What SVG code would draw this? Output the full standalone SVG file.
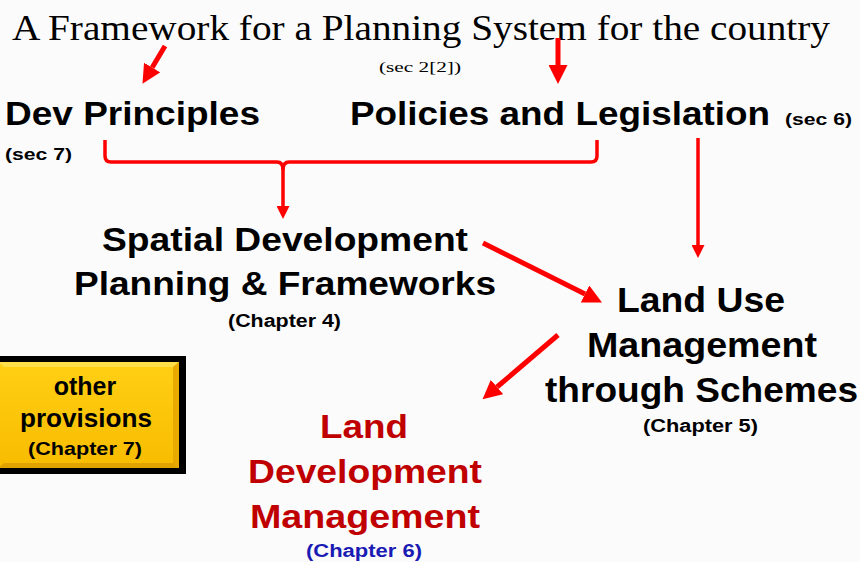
<svg xmlns="http://www.w3.org/2000/svg" width="860" height="562" viewBox="0 0 860 562">
<defs>
<style>
.s{font-family:"Liberation Sans",Arial,sans-serif;font-weight:bold;fill:#000}
.serif{font-family:"Liberation Serif","Times New Roman",serif;fill:#000}
.red{fill:#c00000}
.blue{fill:#1a1ab4}
.ln{fill:none;stroke:#ff0000;stroke-linejoin:round}
</style>
<marker id="big" viewBox="0 0 10 10" refX="0" refY="5" markerWidth="19" markerHeight="19" markerUnits="userSpaceOnUse" orient="auto"><path d="M0,0 L10,5 L0,10 z" fill="#ff0000"/></marker>
<marker id="sm" viewBox="0 0 10 10" refX="0" refY="5" markerWidth="13" markerHeight="13" markerUnits="userSpaceOnUse" orient="auto"><path d="M0,0 L10,5 L0,10 z" fill="#ff0000"/></marker>
<linearGradient id="yg" x1="0" y1="0" x2="0" y2="1">
<stop offset="0" stop-color="#ffcf14"/><stop offset="1" stop-color="#f8bc00"/>
</linearGradient>
</defs>
<rect width="860" height="562" fill="#fbfbfb"/>

<g id="title">
<text class="serif" x="12" y="40" font-size="35" textLength="818" lengthAdjust="spacingAndGlyphs">A Framework for a Planning System for the country</text>
<text class="serif" x="379" y="72" font-size="15" textLength="82" lengthAdjust="spacingAndGlyphs">(sec 2[2])</text>
</g>

<g id="dev-principles">
<text class="s" x="5" y="125" font-size="34" textLength="255" lengthAdjust="spacingAndGlyphs">Dev Principles</text>
<text class="s" x="5" y="160" font-size="17" textLength="67" lengthAdjust="spacingAndGlyphs">(sec 7)</text>
</g>

<g id="policies">
<text class="s" x="350" y="125" font-size="34" textLength="420" lengthAdjust="spacingAndGlyphs">Policies and Legislation</text>
<text class="s" x="785" y="125" font-size="17" textLength="67" lengthAdjust="spacingAndGlyphs">(sec 6)</text>
</g>

<g id="spatial">
<text class="s" x="102" y="251" font-size="34" textLength="366" lengthAdjust="spacingAndGlyphs">Spatial Development</text>
<text class="s" x="74" y="295" font-size="34" textLength="422" lengthAdjust="spacingAndGlyphs">Planning &amp; Frameworks</text>
<text class="s" x="228" y="327" font-size="18" textLength="113" lengthAdjust="spacingAndGlyphs">(Chapter 4)</text>
</g>

<g id="land-use">
<text class="s" x="617" y="312" font-size="35" textLength="168" lengthAdjust="spacingAndGlyphs">Land Use</text>
<text class="s" x="587" y="357" font-size="35" textLength="230" lengthAdjust="spacingAndGlyphs">Management</text>
<text class="s" x="545" y="402" font-size="35" textLength="313" lengthAdjust="spacingAndGlyphs">through Schemes</text>
<text class="s" x="643" y="432" font-size="18" textLength="115" lengthAdjust="spacingAndGlyphs">(Chapter 5)</text>
</g>

<g id="land-dev">
<text class="s red" x="320" y="438" font-size="34" textLength="88" lengthAdjust="spacingAndGlyphs">Land</text>
<text class="s red" x="248" y="483" font-size="34" textLength="234" lengthAdjust="spacingAndGlyphs">Development</text>
<text class="s red" x="250" y="528" font-size="34" textLength="230" lengthAdjust="spacingAndGlyphs">Management</text>
<text class="s blue" x="306" y="557" font-size="18" textLength="116" lengthAdjust="spacingAndGlyphs">(Chapter 6)</text>
</g>

<g id="other-provisions">
<rect x="-4" y="356" width="190" height="118" fill="#000"/>
<rect x="-2" y="362" width="181" height="106" fill="url(#yg)"/>
<path d="M-2,362 H179 L173,367 H4 Z" fill="#ffde4a"/>
<path d="M179,362 V468 L173,463 V367 Z" fill="#e9aa00"/>
<path d="M-2,468 H179 L173,463 H4 Z" fill="#e0a300"/>
<text class="s" x="85" y="395" font-size="25" text-anchor="middle">other</text>
<text class="s" x="20" y="427" font-size="25" textLength="132" lengthAdjust="spacingAndGlyphs">provisions</text>
<text class="s" x="28" y="455" font-size="19" textLength="114" lengthAdjust="spacingAndGlyphs">(Chapter 7)</text>
</g>

<g id="connectors">
<path class="ln" d="M165,46 L152.2,67.5" stroke-width="5" marker-end="url(#big)"/>
<path class="ln" d="M558,38 V65" stroke-width="5" marker-end="url(#big)"/>
<path class="ln" d="M105,140 V156 Q105,162 111,162 H277 Q283,162 283,170 V206" stroke-width="3.5" marker-end="url(#sm)"/>
<path class="ln" d="M597,140 V156 Q597,162 591,162 H289 Q283,162 283,170" stroke-width="3.5"/>
<path class="ln" d="M698,138 V245" stroke-width="3.5" marker-end="url(#sm)"/>
<path class="ln" d="M483,243 L585,294" stroke-width="5" marker-end="url(#big)"/>
<path class="ln" d="M558,335 L497,387" stroke-width="5" marker-end="url(#big)"/>
</g>
</svg>
